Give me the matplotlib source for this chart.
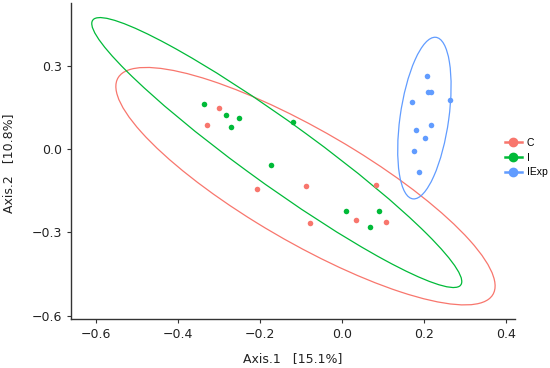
import numpy as np
import matplotlib
matplotlib.use('Agg')
import matplotlib.pyplot as plt
from matplotlib.patches import Ellipse
from matplotlib.lines import Line2D

groups = ['C', 'I', 'IExp']
colors = ['#F8766D', '#00BA38', '#619CFF']

# PCoA scores
c_x = [-0.302, -0.329, -0.208, -0.089, 0.081, -0.080, 0.033, 0.106]
c_y = [0.147, 0.085, -0.144, -0.132, -0.129, -0.265, -0.255, -0.264]
i_x = [-0.338, -0.284, -0.251, -0.271, -0.120, -0.174, 0.009, 0.090, 0.068]
i_y = [0.163, 0.121, 0.113, 0.079, 0.098, -0.056, -0.224, -0.223, -0.281]
iexp_x = [0.206, 0.210, 0.215, 0.169, 0.263, 0.179, 0.217, 0.202, 0.175, 0.188]
iexp_y = [0.264, 0.204, 0.206, 0.168, 0.177, 0.069, 0.087, 0.040, -0.006, -0.084]

# 95% ellipses: centre x, centre y, full width, full height, angle (deg)
ell_cx = [-0.090, -0.160, 0.200]
ell_cy = [-0.134, -0.013, 0.111]
ell_w = [1.208, 1.311, 0.584]
ell_h = [0.355, 0.197, 0.119]
ell_ang = [-42.3, -47.2, 84.7]

xs = [c_x, i_x, iexp_x]
ys = [c_y, i_y, iexp_y]

fig = plt.figure(figsize=(5.5, 3.68), dpi=100)
ax = fig.add_axes([0.1297, 0.1323, 0.8067, 0.8595])

for k in range(3):
    ax.scatter(xs[k], ys[k], s=16, color=colors[k], zorder=3, linewidths=0)
    e = Ellipse((ell_cx[k], ell_cy[k]), ell_w[k], ell_h[k], angle=ell_ang[k],
                fill=False, edgecolor=colors[k], linewidth=0.9)
    ax.add_patch(e)

ax.set_xlim(-0.661, 0.421)
ax.set_ylim(-0.613, 0.525)
ax.set_xticks([-0.6, -0.4, -0.2, 0.0, 0.2, 0.4])
ax.set_yticks([-0.6, -0.3, 0.0, 0.3])
ax.spines['top'].set_visible(False)
ax.spines['right'].set_visible(False)
for s in ['left', 'bottom']:
    ax.spines[s].set_color('#333333')
    ax.spines[s].set_linewidth(1.0)
ax.tick_params(direction='out', length=3, width=0.8, color='#333333',
               labelsize=9, labelcolor='#222222')

fig.text(0.533, 0.008, 'Axis.1   [15.1%]', ha='center', va='bottom', fontsize=9, color='#222222')
fig.text(0.004, 0.557, 'Axis.2   [10.8%]', ha='left', va='center', rotation=90, fontsize=9, color='#222222')

handles = [Line2D([0], [0], color=colors[k], lw=1.8, marker='o', markersize=6) for k in range(3)]
fig.legend(handles, groups, loc='center left', bbox_to_anchor=(0.918, 0.572),
           frameon=False, prop={'family': 'Liberation Sans', 'size': 7.5},
           handlelength=1.6, handletextpad=0.5,
           labelspacing=0.45, borderaxespad=0, borderpad=0)

fig.savefig('out.png', dpi=100)
